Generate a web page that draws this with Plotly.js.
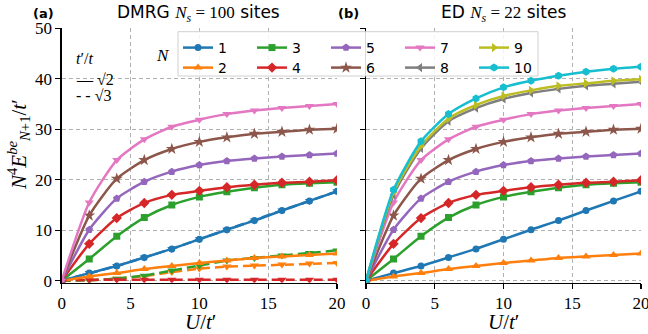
<!DOCTYPE html>
<html>
<head>
<meta charset="utf-8">
<script src="https://cdn.plot.ly/plotly-3.0.1.min.js"></script>
<style>html,body{margin:0;padding:0;background:#fff;}#chart{width:648px;height:334px;}</style>
</head>
<body>
<div id="chart"></div>
<script>
// ---- data ----
const U = [0, 2, 4, 6, 8, 10, 12, 14, 16, 18, 20];
const seriesNames = ['1', '2', '3', '4', '5', '6', '7', '8', '9', '10'];
const N1 = [0, 1.5, 2.9, 4.6, 6.3, 8.2, 10.1, 11.9, 13.9, 15.8, 17.7];
const N2 = [0, 0.85, 1.5, 2.3, 2.9, 3.5, 4.0, 4.5, 4.8, 5.1, 5.4];
const N3 = [0, 4.3, 8.8, 12.5, 15.0, 16.6, 17.6, 18.4, 19.0, 19.3, 19.5];
const N4 = [0, 7.3, 12.4, 15.4, 17.0, 17.8, 18.5, 19.0, 19.4, 19.6, 19.9];
const N5 = [0, 10.1, 16.3, 19.6, 21.6, 22.9, 23.7, 24.2, 24.6, 24.9, 25.2];
const N6 = [0, 12.9, 20.2, 23.9, 26.1, 27.5, 28.4, 29.1, 29.5, 29.9, 30.1];
const N7 = [0, 15.5, 23.9, 28.0, 30.5, 31.9, 33.0, 33.7, 34.2, 34.6, 35.0];
const N8 = [0, 17.0, 26.2, 31.6, 34.2, 36.0, 37.2, 38.0, 38.6, 39.0, 39.4];
const N9 = [0, 17.5, 26.7, 32.1, 34.8, 36.6, 37.7, 38.6, 39.1, 39.6, 39.9];
const N10 = [0, 18.0, 27.6, 33.0, 36.1, 38.3, 39.6, 40.6, 41.4, 42.0, 42.4];
// t'/t = sqrt(3) (DMRG, dashed)
const S3_N1 = [0, 1.5, 2.9, 4.6, 6.3, 8.2, 10.1, 11.9, 13.9, 15.8, 17.7];
const S3_N2 = [0, 0.1, 0.4, 0.9, 1.7, 2.4, 2.8, 3.0, 3.2, 3.4, 3.5];
const S3_N3 = [0, 0.1, 0.4, 1.0, 2.0, 3.0, 4.0, 4.5, 5.0, 5.5, 6.0];
const S3_N4 = [0.1, 0.2, 0.2, 0.2, 0.2, 0.2, 0.2, 0.2, 0.2, 0.2, 0.2];

const dmrgSqrt2 = [N1, N2, N3, N4, N5, N6, N7];
const edSqrt2 = [N1, N2, N3, N4, N5, N6, N7, N8, N9, N10];
const dmrgSqrt3 = [S3_N1, S3_N2, S3_N3, S3_N4];

const colors = ['#1f77b4', '#ff7f0e', '#2ca02c', '#d62728', '#9467bd',
                '#8c564b', '#e377c2', '#7f7f7f', '#bcbd22', '#17becf'];
const symbols = ['circle', 'triangle-up', 'square', 'diamond', 'pentagon',
                 'star', 'triangle-down', 'triangle-left', 'triangle-right', 'hexagon'];
const msize = [7, 8, 7, 8, 8, 9, 8, 8, 8, 8];

const traces = [];
dmrgSqrt3.forEach((ys, i) => {
  traces.push({
    x: U, y: ys, xaxis: 'x', yaxis: 'y', type: 'scatter', mode: 'lines+markers',
    line: {color: colors[i], width: 2.5, dash: '9px,5px'},
    marker: {symbol: 'triangle-down', size: 8, color: colors[i]},
    showlegend: false, hoverinfo: 'skip'
  });
});
dmrgSqrt2.forEach((ys, i) => {
  traces.push({
    x: U, y: ys, xaxis: 'x', yaxis: 'y', type: 'scatter', mode: 'lines+markers',
    line: {color: colors[i], width: 2.5, shape: 'spline', smoothing: 0.6},
    marker: {symbol: symbols[i], size: msize[i], color: colors[i]},
    showlegend: false, hoverinfo: 'skip'
  });
});
edSqrt2.forEach((ys, i) => {
  traces.push({
    x: U, y: ys, xaxis: 'x2', yaxis: 'y2', type: 'scatter', mode: 'lines+markers',
    name: seriesNames[i],
    line: {color: colors[i], width: 2.5, shape: 'spline', smoothing: 0.6},
    marker: {symbol: symbols[i], size: msize[i], color: colors[i]},
    showlegend: true, legend: (i % 2 === 0) ? 'legend' : 'legend2',
    hoverinfo: 'skip'
  });
});

const W = 648, H = 334;
const px = v => v / W;
const py = v => 1 - v / H;

const tickFont = {family: 'Liberation Serif, serif', size: 17, color: '#000'};
const gridCommon = {
  showgrid: true, gridcolor: '#b0b0b0', griddash: '4px,3px', gridwidth: 1,
  zeroline: false, showline: true, linecolor: '#000', linewidth: 1.3,
  ticks: 'outside', ticklen: 5, tickwidth: 1.2, tickcolor: '#000',
  tickfont: tickFont, mirror: false, ticklabeloverflow: 'allow'
};

const yDom = [1 - 282.7 / H, 1 - 28.3 / H];
const legFont = {family: 'DejaVu Sans, sans-serif', size: 14, color: '#000'};
const legCommon = {
  orientation: 'h', xanchor: 'left', yanchor: 'top',
  bgcolor: 'rgba(0,0,0,0)', borderwidth: 0, font: legFont,
  entrywidth: 29, entrywidthmode: 'pixels', itemwidth: 30, tracegroupgap: 0,
  traceorder: 'normal'
};

const mathF = 'Liberation Serif, serif';
const sansF = 'DejaVu Sans, sans-serif';

const layout = {
  width: W, height: H,
  margin: {l: 0, r: 0, t: 0, b: 0},
  paper_bgcolor: '#fff', plot_bgcolor: '#fff',
  showlegend: true,
  xaxis: Object.assign({}, gridCommon, {domain: [61.7 / W, 337 / W], range: [0, 20], tickvals: [0, 5, 10, 15, 20], anchor: 'y'}),
  yaxis: Object.assign({}, gridCommon, {domain: yDom, range: [-0.4, 50], tickvals: [0, 10, 20, 30, 40, 50], anchor: 'x'}),
  xaxis2: Object.assign({}, gridCommon, {domain: [366 / W, 641 / W], range: [0, 20], tickvals: [0, 5, 10, 15, 20], anchor: 'y2'}),
  yaxis2: Object.assign({}, gridCommon, {domain: yDom, range: [-0.4, 50], tickvals: [0, 10, 20, 30, 40, 50], showticklabels: false, anchor: 'x2'}),
  legend: Object.assign({}, legCommon, {x: px(178), y: py(32)}),
  legend2: Object.assign({}, legCommon, {x: px(178), y: py(52)}),
  shapes: [{
    type: 'rect', xref: 'paper', yref: 'paper', layer: 'above',
    x0: px(178), x1: px(538), y0: py(76), y1: py(31.7),
    line: {color: '#d0d0d0', width: 1}, fillcolor: 'rgba(255,255,255,0.85)'
  }],
  annotations: [
    {xref: 'paper', yref: 'paper', x: px(43), y: py(13), showarrow: false, xanchor: 'center', yanchor: 'middle',
     text: '<b>(a)</b>', font: {family: sansF, size: 13, color: '#000'}},
    {xref: 'paper', yref: 'paper', x: px(348), y: py(13), showarrow: false, xanchor: 'center', yanchor: 'middle',
     text: '<b>(b)</b>', font: {family: sansF, size: 13, color: '#000'}},
    {xref: 'paper', yref: 'paper', x: px(199), y: py(13), showarrow: false, xanchor: 'center', yanchor: 'middle',
     text: 'DMRG <span style="font-family:Liberation Serif"><i>N</i><sub><i>s</i></sub> = 100</span> sites',
     font: {family: sansF, size: 17, color: '#000'}},
    {xref: 'paper', yref: 'paper', x: px(503), y: py(13), showarrow: false, xanchor: 'center', yanchor: 'middle',
     text: 'ED <span style="font-family:Liberation Serif"><i>N</i><sub><i>s</i></sub> = 22</span> sites',
     font: {family: sansF, size: 17, color: '#000'}},
    {xref: 'paper', yref: 'paper', x: px(200), y: py(322), showarrow: false, xanchor: 'center', yanchor: 'middle',
     text: '<i>U</i>/<i>t</i>′', font: {family: mathF, size: 21, color: '#000'}},
    {xref: 'paper', yref: 'paper', x: px(503), y: py(322), showarrow: false, xanchor: 'center', yanchor: 'middle',
     text: '<i>U</i>/<i>t</i>′', font: {family: mathF, size: 21, color: '#000'}},
    {xref: 'paper', yref: 'paper', x: px(18), y: py(145), showarrow: false, xanchor: 'center', yanchor: 'middle', textangle: -90,
     text: '<i>N</i><sup>4</sup><i>E</i><sup><i>be</i></sup><sub><i>N</i>+1</sub>/<i>t</i>′', font: {family: mathF, size: 21, color: '#000'}},
    {xref: 'paper', yref: 'paper', x: px(163), y: py(55), showarrow: false, xanchor: 'center', yanchor: 'middle',
     text: '<i>N</i>', font: {family: mathF, size: 17, color: '#000'}},
    {xref: 'paper', yref: 'paper', x: px(74), y: py(58), showarrow: false, xanchor: 'left', yanchor: 'middle',
     text: '<i>t</i>′/<i>t</i>', font: {family: mathF, size: 16, color: '#000'}},
    {xref: 'paper', yref: 'paper', x: px(74), y: py(79), showarrow: false, xanchor: 'left', yanchor: 'middle',
     text: '— √2', font: {family: mathF, size: 16, color: '#000'}},
    {xref: 'paper', yref: 'paper', x: px(74), y: py(95), showarrow: false, xanchor: 'left', yanchor: 'middle',
     text: '- - √3', font: {family: mathF, size: 16, color: '#000'}}
  ]
};

Plotly.newPlot('chart', traces, layout, {staticPlot: true, displayModeBar: false});
</script>
</body>
</html>
